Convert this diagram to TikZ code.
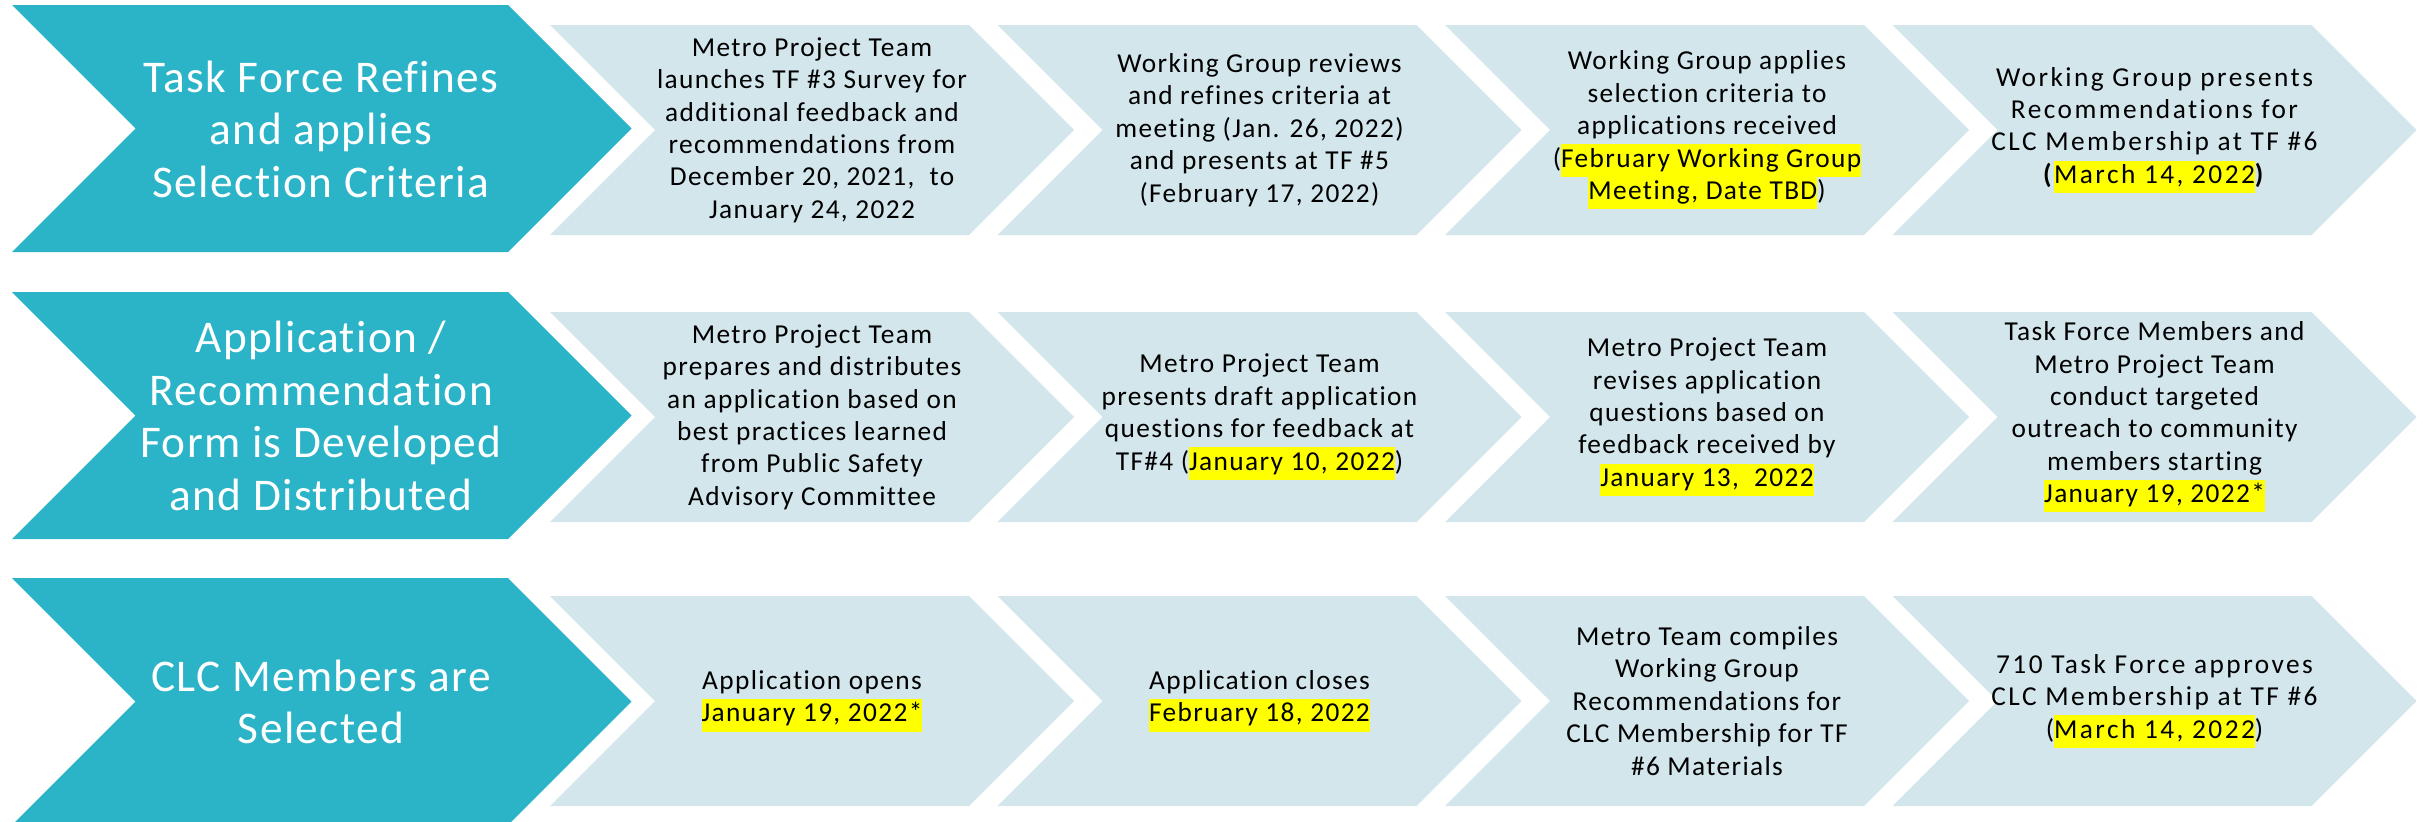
\documentclass[tikz,border=0pt]{standalone}
\usepackage{fontspec}
\setmainfont{Carlito}[Ligatures=NoCommon]
\newfontfamily\bodyfont[LetterSpace=5,Ligatures=NoCommon]{Carlito}
\newfontfamily\widefont[LetterSpace=9,Ligatures=NoCommon]{Carlito}
\newfontfamily\headfont[LetterSpace=3,Ligatures=NoCommon]{Carlito}
\definecolor{tealc}{RGB}{43,180,200}
\definecolor{lightc}{RGB}{210,230,236}
\definecolor{hly}{RGB}{255,255,0}
\newcommand{\hlt}[1]{{\setlength{\fboxsep}{0pt}\colorbox{hly}{\strut #1}}}
\newcommand{\lightchev}[2]{%
  \fill[lightc] (#1,#2) -- ++(419,0) -- ++(105,105) -- ++(-105,105) -- ++(-419,0) -- ++(105,-105) -- cycle;}
\newcommand{\tealchev}[1]{%
  \fill[tealc] (12,#1) -- ++(496,0) -- ++(123.5,123.5) -- ++(-123.5,123.5) -- ++(-496,0) -- ++(123.5,-123.5) -- cycle;}
\begin{document}
\begin{tikzpicture}[x=0.75pt,y=-0.75pt,
  headtxt/.style={text=white,align=center,font=\headfont\fontsize{34}{39.4}\selectfont,inner sep=0pt},
  bodytxt/.style={text=black,align=center,font=\bodyfont\fontsize{20.5}{24.3}\selectfont,inner sep=0pt},
  widetxt/.style={bodytxt,font=\widefont\fontsize{20.5}{24.3}\selectfont}]
\useasboundingbox (0,0) rectangle (2423,821);
% teal chevrons
\tealchev{5}
\tealchev{292}
\tealchev{578}
% light chevrons
\foreach \L in {550,997.5,1445,1892.5}{
  \lightchev{\L}{25}
  \lightchev{\L}{312}
  \lightchev{\L}{596}
}
% headings
\node[headtxt] (h1) at (321,129) {Task Force Refines\\and applies\\Selection Criteria};
\node[headtxt] (h2) at (321,416) {Application /\\Recommendation\\Form is Developed\\and Distributed};
\node[headtxt] (h3) at (321,702) {CLC Members are\\Selected};
% row 1
\node[bodytxt] (a1) at (812,130) {Metro Project Team\\launches TF \#3 Survey for\\additional feedback and\\recommendations from\\December 20, 2021,~ to\\January 24, 2022};
\node[bodytxt] (a2) at (1259.5,130) {Working Group reviews\\and refines criteria at\\meeting (Jan. 26, 2022)\\and presents at TF \#5\\(February 17, 2022)};
\node[bodytxt] (a3) at (1707,130) {Working Group applies\\selection criteria to\\applications received\\(\hlt{February Working Group}\\\hlt{Meeting, Date TBD})};
\node[widetxt] (a4) at (2154.5,130) {Working Group presents\\Recommendations for\\CLC Membership at TF \#6\\\textbf{(}\hlt{March 14, 2022}\textbf{)}};
% row 2
\node[bodytxt] (b1) at (812,417) {Metro Project Team\\prepares and distributes\\an application based on\\best practices learned\\from Public Safety\\Advisory Committee};
\node[bodytxt] (b2) at (1259.5,417) {Metro Project Team\\presents draft application\\questions for feedback at\\TF\#4 (\hlt{January 10, 2022})};
\node[bodytxt] (b3) at (1707,417) {Metro Project Team\\revises application\\questions based on\\feedback received by\\\hlt{January 13,~ 2022}};
\node[bodytxt] (b4) at (2154.5,417) {Task Force Members and\\Metro Project Team\\conduct targeted\\outreach to community\\members starting\\\hlt{January 19, 2022*}};
% row 3
\node[bodytxt] (c1) at (812,701) {Application opens\\\hlt{January 19, 2022*}};
\node[bodytxt] (c2) at (1259.5,701) {Application closes\\\hlt{February 18, 2022}};
\node[bodytxt] (c3) at (1707,701) {Metro Team compiles\\Working Group\\Recommendations for\\CLC Membership for TF\\\#6 Materials};
\node[widetxt] (c4) at (2154.5,701) {710 Task Force approves\\CLC Membership at TF \#6\\(\hlt{March 14, 2022})};
\end{tikzpicture}
\end{document}
